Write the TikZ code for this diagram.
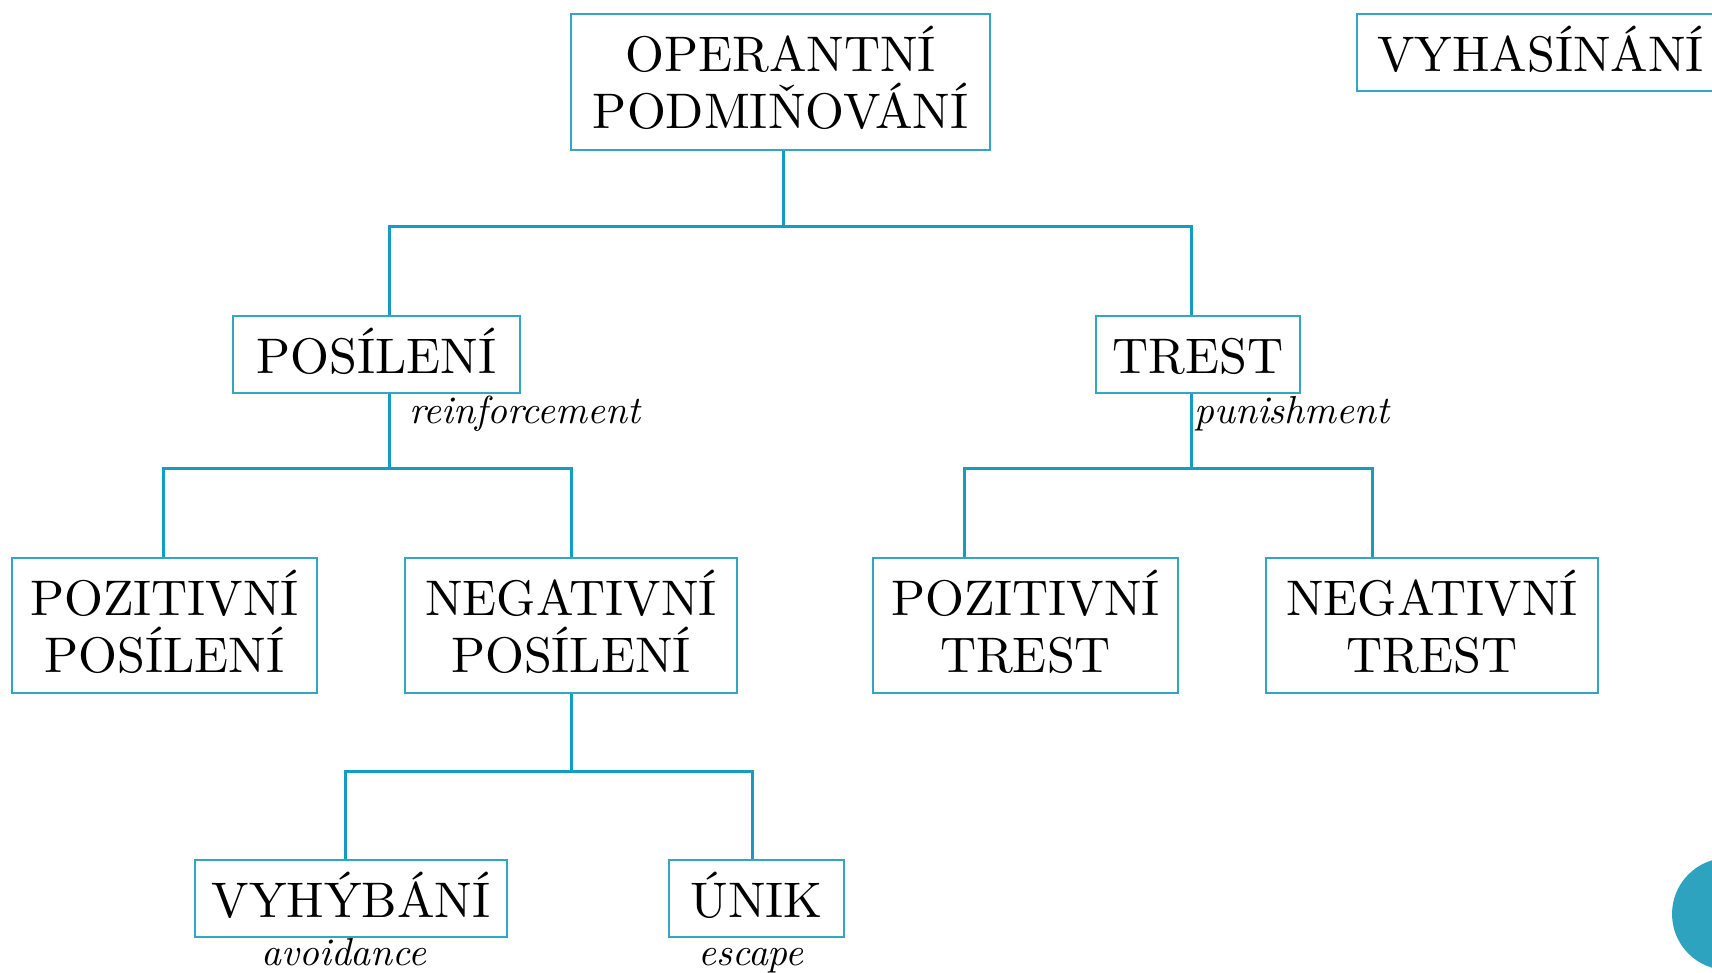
\documentclass[tikz,border=0pt]{standalone}
\usepackage{fontspec}
\setmainfont{lmroman10-regular}[Extension=.otf,ItalicFont=lmroman10-italic]
\usetikzlibrary{calc}
\definecolor{boxc}{RGB}{52,166,196}
\definecolor{linec}{RGB}{20,156,196}
\definecolor{dotc}{RGB}{46,163,192}
\begin{document}
\begin{tikzpicture}[x=1pt,y=-1pt,
  box/.style={draw=boxc,line width=2pt,inner sep=0pt,align=center,
    font=\fontsize{50}{56.5}\selectfont,minimum height=77pt,
    text height=38pt,text depth=0pt},
  box2/.style={box,minimum height=135pt,text height=93pt,text depth=0pt},
  conn/.style={draw=linec,line width=3pt},
  lbl/.style={font=\fontsize{39}{46}\selectfont\itshape,inner sep=0pt}]
\useasboundingbox (0,0) rectangle (1712,973);
\clip (0,0) rectangle (1712,973);
\fill[dotc] (1728,914) circle (56pt);

\node[box2,minimum width=419pt,minimum height=136pt] (op) at (780.5,82) {OPERANTNÍ\\PODMIŇOVÁNÍ};
\node[box,minimum width=367pt] (vy) at (1540.5,52.5) {VYHASÍNÁNÍ};
\node[box,minimum width=287pt] (pos) at (376.5,354.5) {POSÍLENÍ};
\node[box,minimum width=204pt] (tr) at (1198,354.5) {TREST};
\node[box2,minimum width=305pt] (pp) at (164.5,625.5) {POZITIVNÍ\\POSÍLENÍ};
\node[box2,minimum width=332pt] (np) at (571,625.5) {NEGATIVNÍ\\POSÍLENÍ};
\node[box2,minimum width=305pt] (pt) at (1025.5,625.5) {POZITIVNÍ\\TREST};
\node[box2,minimum width=332pt] (nt) at (1432,625.5) {NEGATIVNÍ\\TREST};
\node[box,minimum width=312pt] (vb) at (351,898.5) {VYHÝBÁNÍ};
\node[box,minimum width=175pt] (un) at (756.5,898.5) {ÚNIK};

\node[lbl,anchor=base west] (re) at (409,423) {reinforcement};
\node[lbl,anchor=base west] (pu) at (1194,423) {punishment};
\node[lbl,anchor=base] (av) at (344,965) {avoidance};
\node[lbl,anchor=base] (es) at (751,965) {escape};

\draw[conn] ([xshift=2.5]op.south) -- ++(0,76) -| ([xshift=12.5]pos.north);
\draw[conn] ([xshift=2.5]op.south) -- ++(0,76) -| ([xshift=-7]tr.north);
\draw[conn] ([xshift=12.5]pos.south) -- ++(0,74) -| ([xshift=-1.5]pp.north);
\draw[conn] ([xshift=12.5]pos.south) -- ++(0,74) -| (np.north);
\draw[conn] ([xshift=-7]tr.south) -- ++(0,74) -| ([xshift=-61.5]pt.north);
\draw[conn] ([xshift=-7]tr.south) -- ++(0,74) -| ([xshift=-60]nt.north);
\draw[conn] (np.south) -- ++(0,77) -| ([xshift=-6]vb.north);
\draw[conn] (np.south) -- ++(0,77) -| ([xshift=-4.5]un.north);
\end{tikzpicture}
\end{document}
